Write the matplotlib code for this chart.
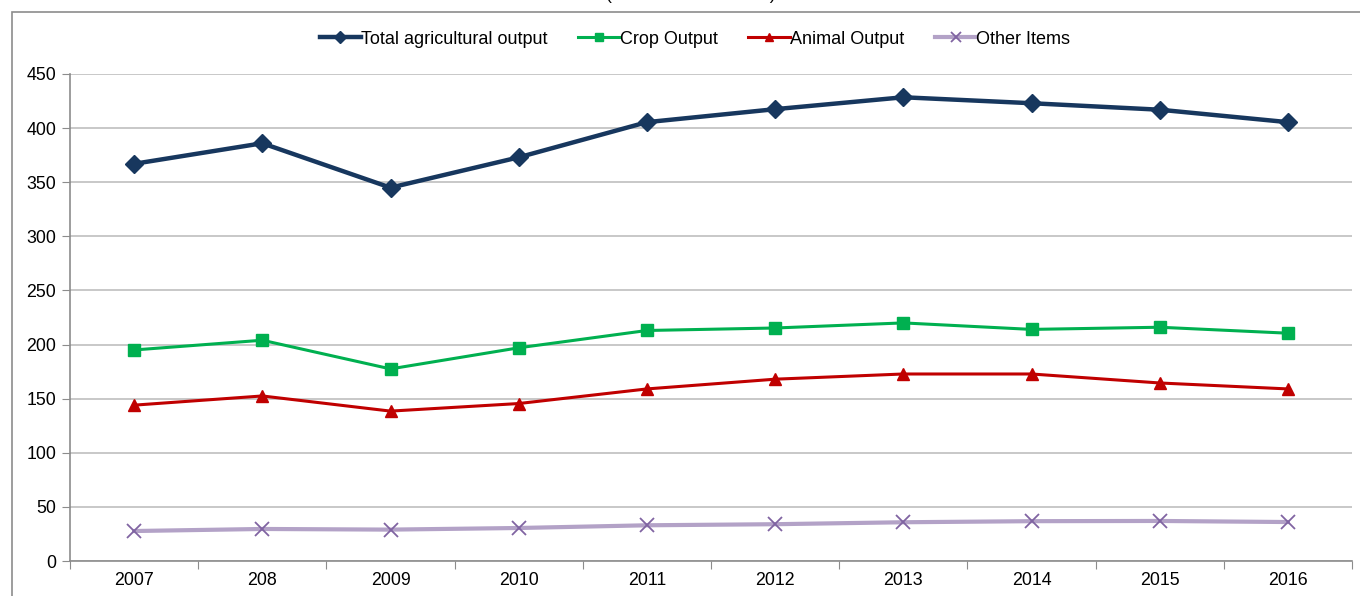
import matplotlib
matplotlib.use('Agg')
import matplotlib.pyplot as plt
from matplotlib.patches import Rectangle

plt.rcParams['font.family'] = ['Liberation Sans', 'DejaVu Sans']

years = ['2007', '208', '2009', '2010', '2011', '2012', '2013', '2014', '2015', '2016']
total_output = [367, 386, 345, 373, 405.5, 417.5, 428.5, 423, 417, 405.5]
crop_output = [195, 204, 177.5, 197, 213, 215.3, 220, 214, 216, 210.5]
animal_output = [144, 152.5, 138.5, 145.5, 159, 168, 172.8, 172.8, 164.5, 159]
other_items = [27.7, 29.6, 29, 30.5, 33, 34, 35.8, 36.8, 37, 36]

x = list(range(len(years)))

fig = plt.figure(figsize=(13.6, 5.96), dpi=100)
ax = fig.add_axes([70 / 1360, 35 / 596, 1282 / 1360, 487 / 596])

# outer chart frame (partly outside the picture)
fig.add_artist(Rectangle((12 / 1360, -0.2), 1.2, (596 - 12) / 596 + 0.2,
                         transform=fig.transFigure, fill=False,
                         edgecolor='#8c8c8c', linewidth=1.2, clip_on=False))
# title sits mostly above the visible area, as in the source crop
fig.text(691 / 1360, 1.0, '(Value in million Euro)', ha='center',
         va='baseline', fontsize=12.5)

ax.plot(x, total_output, color='#17375E', lw=3.2, marker='D', ms=9,
        label='Total agricultural output', zorder=5)
ax.plot(x, crop_output, color='#00B050', lw=2.2, marker='s', ms=8,
        label='Crop Output', zorder=4)
ax.plot(x, animal_output, color='#C00000', lw=2.2, marker='^', ms=8,
        label='Animal Output', zorder=4)
ax.plot(x, other_items, color='#B3A2C7', lw=3, marker='x', ms=10, mew=1.3,
        mec='#8064A2', label='Other Items', zorder=4)

ax.set_xlim(-0.5, len(years) - 0.5)
ax.set_ylim(0, 450)
ax.set_yticks(range(0, 451, 50))
ax.yaxis.grid(True, color='#bfbfbf', lw=1.2)
ax.set_axisbelow(True)

ax.set_xticks([i - 0.5 for i in range(len(years) + 1)])
ax.set_xticklabels([])
ax.set_xticks(x, minor=True)
ax.set_xticklabels(years, minor=True)
ax.tick_params(axis='x', which='minor', length=0, pad=8, labelsize=12.8)
ax.tick_params(axis='x', which='major', length=6, color='#8c8c8c')
ax.tick_params(axis='y', length=6, color='#8c8c8c', labelsize=12.8, pad=4)

for side in ['top', 'right']:
    ax.spines[side].set_visible(False)
for side in ['left', 'bottom']:
    ax.spines[side].set_color('#8c8c8c')
    ax.spines[side].set_linewidth(1.2)

fig.legend(loc='center', bbox_to_anchor=(695 / 1360, 1 - 39 / 596), ncol=4,
           frameon=False, fontsize=13, handlelength=2.3, handletextpad=0.0,
           columnspacing=1.7, markerscale=0.72)

plt.savefig('out.png', dpi=100)
